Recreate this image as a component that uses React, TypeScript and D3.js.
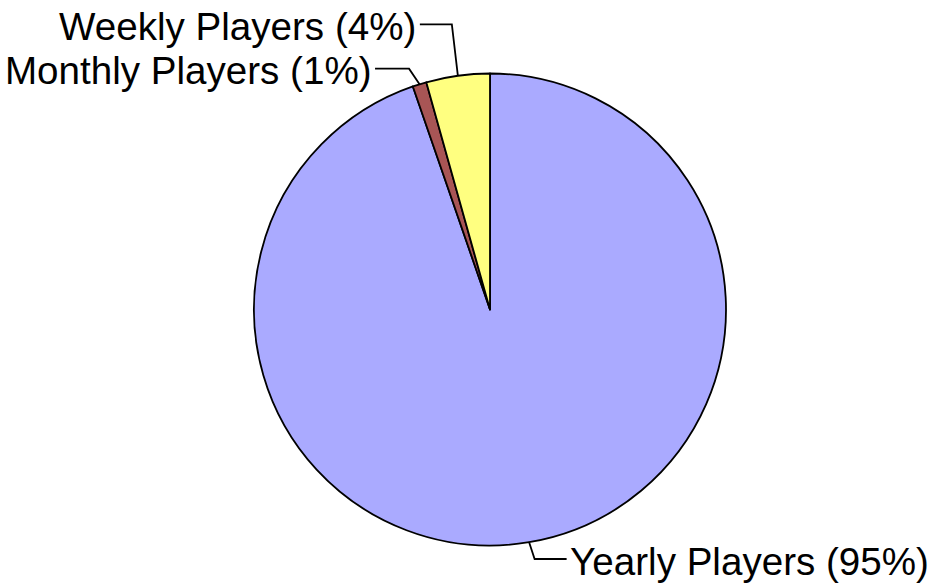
import { useMemo } from 'react';
import * as d3 from 'd3';

// Slices, clockwise from 12 o'clock
const categories = ['Yearly Players', 'Monthly Players', 'Weekly Players'];
const shares = [94.7, 0.95, 4.35];
const shareLabels = ['95%', '1%', '4%'];
const colors = ['#aaaaff', '#a85555', '#ffff80'];

// Leader layout: elbow y, label side (+1 right, -1 left), horizontal run
const leaderElbowY = [559, 68.7, 24.3];
const leaderSide = [1, -1, -1];
const leaderRun = [32, 34, 32];

const W = 935;
const H = 585;
const cx = 490;
const cy = 309.5;
const R = 236;
const FONT = 'Liberation Sans, Arial, sans-serif';

export default function App() {
  const arcs = useMemo(
    () =>
      d3
        .pie<number>()
        .sort(null)
        .value((d) => d)(shares),
    []
  );

  const arcGen = d3.arc<d3.PieArcDatum<number>>().innerRadius(0).outerRadius(R);

  return (
    <div style={{ position: 'absolute', left: 0, top: 0 }}>
      <svg width={W} height={H} style={{ display: 'block', background: '#fff' }}>
        <g transform={`translate(${cx},${cy})`}>
          {arcs.map((a, i) => (
            <path
              key={categories[i]}
              d={arcGen(a) ?? undefined}
              fill={colors[i]}
              stroke="#000"
              strokeWidth={1.8}
              strokeLinejoin="round"
            />
          ))}
        </g>

        {/* Leader lines + labels */}
        {arcs.map((a, i) => {
          const mid = (a.startAngle + a.endAngle) / 2;
          const ex = cx + R * Math.sin(mid);
          const ey = cy - R * Math.cos(mid);
          const side = leaderSide[i];
          const ely = leaderElbowY[i];
          // elbow sits slightly outward from the edge point
          const elx = ex + (side > 0 ? 5.5 : i === 1 ? -10.5 : -6);
          const endx = elx + side * leaderRun[i];
          return (
            <g key={`lbl-${categories[i]}`}>
              <polyline
                points={`${ex},${ey} ${elx},${ely} ${endx},${ely}`}
                fill="none"
                stroke="#000"
                strokeWidth={1.8}
              />
              <text
                x={endx + side * 3.5}
                y={ely + 15.5}
                textAnchor={side > 0 ? 'start' : 'end'}
                fontSize={38.6}
                fontFamily={FONT}
                fill="#000"
              >
                {`${categories[i]} (${shareLabels[i]})`}
              </text>
            </g>
          );
        })}
      </svg>
    </div>
  );
}
